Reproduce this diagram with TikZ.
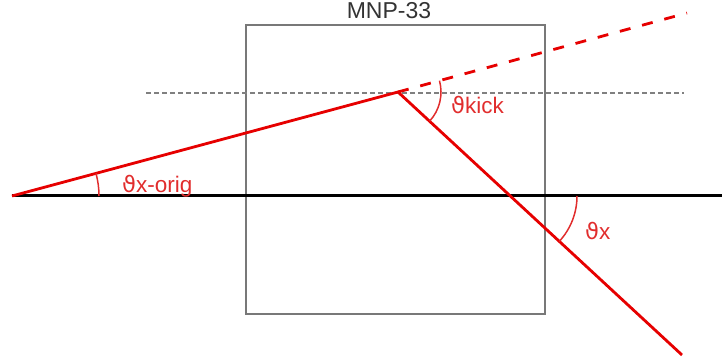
\documentclass[tikz,border=0pt]{standalone}
\usepackage{fontspec}
\usetikzlibrary{calc}
\setmainfont{Liberation Sans}
\newfontfamily\thfont{DejaVu Sans}
\definecolor{lred}{RGB}{230,0,0}
\definecolor{tred}{RGB}{225,45,45}
\definecolor{boxgray}{RGB}{120,120,120}
\begin{document}
\begin{tikzpicture}[x=1pt,y=-1pt,
  redline/.style={draw=lred,line width=2.8pt},
  reddash/.style={draw=lred,line width=2.8pt,dash pattern=on 11pt off 12pt},
  anglearc/.style={draw=tred,line width=1.5pt},
  lbl/.style={text=tred,anchor=base west,inner sep=0pt,font=\fontsize{22.5}{26}\selectfont},
  ttl/.style={text=black!80,anchor=base,inner sep=0pt,font=\fontsize{23}{26}\selectfont}]
\useasboundingbox (0,0) rectangle (722,363);
% box
\draw[boxgray,line width=2pt] (246,25) rectangle (545,314);
\node[ttl] (title) at (389,19) {MNP-33};
% dotted reference line
\coordinate (dl) at (146,93);
\coordinate (dr) at (684,93);
\draw[gray,line width=2.2pt,dash pattern=on 5pt off 3pt] (dl) -- (dr);
% axis
\coordinate (a0) at (12,196);
\coordinate (a1) at (722,196);
\draw[black,line width=3pt] (a0) -- (a1);
% beam
\coordinate (k) at (398,92);
\coordinate (e1) at (687,13);
\coordinate (e2) at (682,355);
\coordinate (c) at (510,196);
\draw[redline] (a0) -- (k) -- (e2);
\draw[reddash] (k) -- (e1);
% arcs (y axis points down, so angles are mirrored)
\draw[anglearc] ($(a0)+(87,0)$) arc[start angle=0,end angle=-15.1,radius=87];
\draw[anglearc] ([shift={(-15.3:43)}]k) arc[start angle=-15.3,end angle=42.8,radius=43];
\draw[anglearc] ([shift={(0:67)}]c) arc[start angle=0,end angle=42.8,radius=67];
% labels
\node[lbl] (l1) at (122,193) {{\thfont ϑ}x-orig};
\node[lbl] (l2) at (451,114) {{\thfont ϑ}kick};
\node[lbl] (l3) at (585,240) {{\thfont ϑ}x};
\end{tikzpicture}
\end{document}
